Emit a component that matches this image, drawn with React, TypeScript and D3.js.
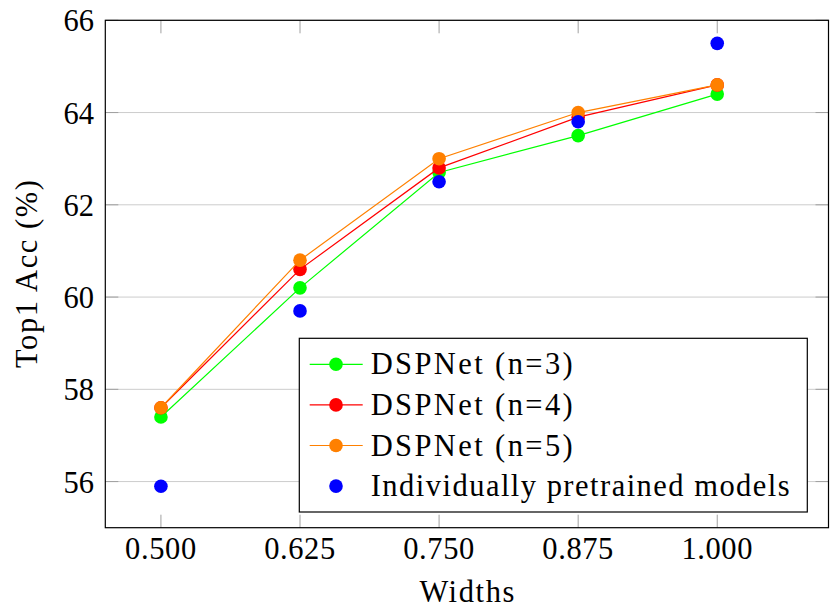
import * as d3 from 'd3'
import React, { useEffect, useRef } from 'react'

// widths on the x axis
const widths = [0.5, 0.625, 0.75, 0.875, 1.0]
const xTickLabels = ['0.500', '0.625', '0.750', '0.875', '1.000']
const yTicks = [56, 58, 60, 62, 64, 66]

// top1 accuracy per width
const dspN3 = [57.4, 60.2, 62.7, 63.5, 64.4]
const dspN4 = [57.6, 60.6, 62.8, 63.9, 64.6]
const dspN5 = [57.6, 60.8, 63.0, 64.0, 64.6]
const individual = [55.9, 59.7, 62.5, 63.8, 65.5]

const seriesNames = ['DSPNet (n=3)', 'DSPNet (n=4)', 'DSPNet (n=5)', 'Individually pretrained models']
const seriesColors = ['#00ff00', '#ff0000', '#ff8000', '#0000ff']
const seriesLines = [true, true, true, false]

const FONT = '"Liberation Serif", "Times New Roman", serif'

const App = (): JSX.Element => {
    const ref = useRef<SVGSVGElement>(null)
    const width = 830
    const height = 613
    const margin = { top: 20.3, right: 1.5, bottom: 85.3, left: 105.3 }

    useEffect(() => {
        const svg = d3.select(ref.current)
        svg.selectAll('*').remove()

        const xScale = d3
            .scaleLinear()
            .domain([0.45, 1.1])
            .range([margin.left, width - margin.right])
        const yScale = d3
            .scaleLinear()
            .domain([55, 66])
            .range([height - margin.bottom, margin.top])

        const x0 = margin.left
        const x1 = width - margin.right
        const y0 = height - margin.bottom
        const y1 = margin.top

        // grid
        svg.append('g')
            .selectAll('line')
            .data(yTicks)
            .enter()
            .append('line')
            .attr('x1', x0)
            .attr('x2', x1)
            .attr('y1', (d) => yScale(d))
            .attr('y2', (d) => yScale(d))
            .attr('stroke', '#cccccc')
            .attr('stroke-width', 1)

        // tick marks (inside the frame)
        const tickLen = 13
        const ticks = svg.append('g').attr('stroke', '#a0a0a0').attr('stroke-width', 1)
        widths.forEach((w) => {
            ticks.append('line').attr('x1', xScale(w)).attr('x2', xScale(w)).attr('y1', y0).attr('y2', y0 - tickLen)
            ticks.append('line').attr('x1', xScale(w)).attr('x2', xScale(w)).attr('y1', y1).attr('y2', y1 + tickLen)
        })
        yTicks.forEach((t) => {
            ticks.append('line').attr('x1', x0).attr('x2', x0 + tickLen).attr('y1', yScale(t)).attr('y2', yScale(t))
            ticks.append('line').attr('x1', x1).attr('x2', x1 - tickLen).attr('y1', yScale(t)).attr('y2', yScale(t))
        })

        // series
        const allSeries = [dspN3, dspN4, dspN5, individual]
        const line = d3
            .line<number>()
            .x((d, i) => xScale(widths[i]))
            .y((d) => yScale(d))

        allSeries.forEach((values, index) => {
            const g = svg.append('g')
            if (seriesLines[index]) {
                g.append('path')
                    .attr('d', line(values))
                    .attr('fill', 'none')
                    .attr('stroke', seriesColors[index])
                    .attr('stroke-width', 1.2)
            }
            g.selectAll('circle')
                .data(values)
                .enter()
                .append('circle')
                .attr('cx', (d, i) => xScale(widths[i]))
                .attr('cy', (d) => yScale(d))
                .attr('r', 6.8)
                .attr('fill', seriesColors[index])
        })

        // frame
        svg.append('rect')
            .attr('x', x0)
            .attr('y', y1)
            .attr('width', x1 - x0)
            .attr('height', y0 - y1)
            .attr('fill', 'none')
            .attr('stroke', '#000')
            .attr('stroke-width', 1.2)

        // tick labels
        svg.append('g')
            .selectAll('text')
            .data(widths)
            .enter()
            .append('text')
            .attr('x', (d) => xScale(d))
            .attr('y', y0 + 31.6)
            .attr('text-anchor', 'middle')
            .attr('font-family', FONT)
            .attr('font-size', 30.5)
            .attr('letter-spacing', 0.6)
            .text((d, i) => xTickLabels[i])

        svg.append('g')
            .selectAll('text')
            .data(yTicks)
            .enter()
            .append('text')
            .attr('x', x0 - 11.3)
            .attr('y', (d) => yScale(d) + 11)
            .attr('text-anchor', 'end')
            .attr('font-family', FONT)
            .attr('font-size', 30.5)
            .text((d) => `${d}`)

        // axis titles (stretched a little towards the width of Computer Modern)
        svg.append('text')
            .attr('x', (x0 + x1) / 2)
            .attr('y', 601.5)
            .attr('text-anchor', 'middle')
            .attr('font-family', FONT)
            .attr('font-size', 30.5)
            .attr('textLength', 95)
            .attr('lengthAdjust', 'spacing')
            .text('Widths')

        svg.append('text')
            .attr('transform', `translate(37,${(y0 + y1) / 2}) rotate(-90)`)
            .attr('text-anchor', 'middle')
            .attr('font-family', FONT)
            .attr('font-size', 30.5)
            .attr('textLength', 188)
            .attr('lengthAdjust', 'spacing')
            .text('Top1 Acc (%)')

        // legend
        const legend = { x: 299.3, y: 338.3, w: 508, h: 173.7, rowTop: 364.3, rowGap: 40.6 }
        const labelWidths = [202, 202, 202, 419]
        const lg = svg.append('g')
        lg.append('rect')
            .attr('x', legend.x)
            .attr('y', legend.y)
            .attr('width', legend.w)
            .attr('height', legend.h)
            .attr('fill', '#fff')
            .attr('stroke', '#000')
            .attr('stroke-width', 1.2)
        seriesNames.forEach((name, i) => {
            const cy = legend.rowTop + i * legend.rowGap
            if (seriesLines[i]) {
                lg.append('line')
                    .attr('x1', 309.7)
                    .attr('x2', 362.7)
                    .attr('y1', cy)
                    .attr('y2', cy)
                    .attr('stroke', seriesColors[i])
                    .attr('stroke-width', 1.2)
            }
            lg.append('circle').attr('cx', 336).attr('cy', cy).attr('r', 6.8).attr('fill', seriesColors[i])
            lg.append('text')
                .attr('x', 370.7)
                .attr('y', cy + 10)
                .attr('font-family', FONT)
                .attr('font-size', 30.5)
                .attr('textLength', labelWidths[i])
                .attr('lengthAdjust', 'spacing')
                .text(name)
        })
    }, [])

    return (
        <svg
            ref={ref}
            width={width}
            height={height}
            style={{ position: 'absolute', left: 0, top: 0, background: '#fff' }}
        />
    )
}

export default App
